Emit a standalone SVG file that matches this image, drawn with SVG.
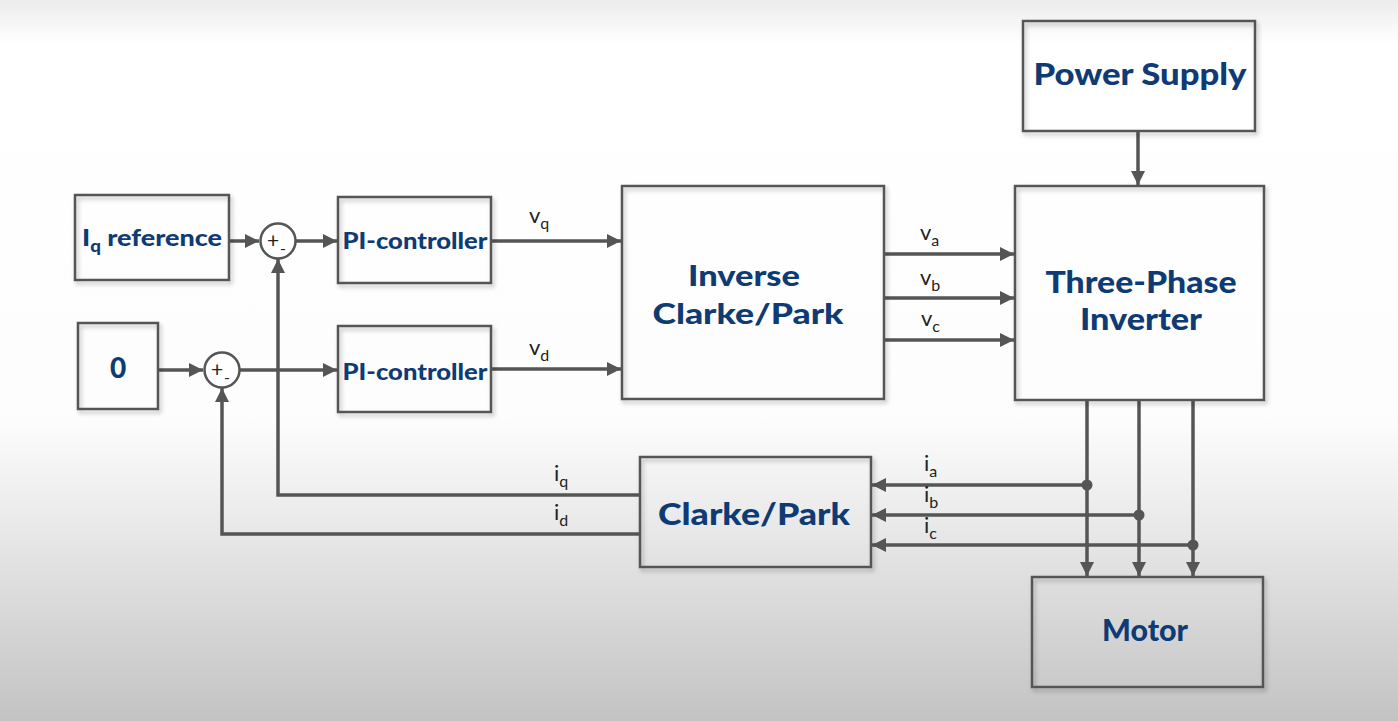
<svg xmlns="http://www.w3.org/2000/svg" width="1398" height="721" viewBox="0 0 1398 721">
<defs>
<linearGradient id="bg" x1="0" y1="0" x2="0" y2="1">
<stop offset="0" stop-color="#ececec"/>
<stop offset="0.06" stop-color="#ffffff"/>
<stop offset="0.58" stop-color="#fdfdfd"/>
<stop offset="0.75" stop-color="#e6e6e6"/>
<stop offset="1" stop-color="#c3c3c3"/>
</linearGradient>
<filter id="sh" x="-10%" y="-10%" width="130%" height="130%">
<feDropShadow dx="2" dy="3" stdDeviation="2" flood-color="#000" flood-opacity="0.25"/>
</filter>
<marker id="ar" viewBox="0 0 10 10" refX="10" refY="5" markerWidth="4" markerHeight="4" orient="auto" markerUnits="strokeWidth">
<path d="M0,0 L10,5 L0,10 z" fill="#555"/>
</marker>
</defs>
<style>
.box{fill:none;stroke:#555;stroke-width:2.5}
.sum{fill:#fff;stroke:#555;stroke-width:2.5}
.t{font-family:Lato,"Open Sans",sans-serif;font-weight:900;fill:#0e3b74;text-anchor:middle}
.l{font-family:Lato,"Open Sans",sans-serif;font-weight:400;fill:#222;font-size:22px}
.s{font-family:Lato,"Open Sans",sans-serif;font-weight:400;fill:#222;font-size:16px}
.w{fill:none;stroke:#555;stroke-width:3.5}
.dot{fill:#555}
.pm{font-family:Lato,"Open Sans",sans-serif;fill:#222;text-anchor:middle}
</style>
<rect width="1398" height="721" fill="url(#bg)"/>

<g id="connectors">
<line class="w" x1="229" y1="241" x2="259" y2="241" marker-end="url(#ar)"/>
<line class="w" x1="295" y1="241" x2="337" y2="241" marker-end="url(#ar)"/>
<line class="w" x1="158" y1="370" x2="203" y2="370" marker-end="url(#ar)"/>
<line class="w" x1="239" y1="370" x2="337" y2="370" marker-end="url(#ar)"/>
<line class="w" x1="491" y1="241" x2="621" y2="241" marker-end="url(#ar)"/>
<line class="w" x1="491" y1="369" x2="621" y2="369" marker-end="url(#ar)"/>
<line class="w" x1="884" y1="254" x2="1014" y2="254" marker-end="url(#ar)"/>
<line class="w" x1="884" y1="298" x2="1014" y2="298" marker-end="url(#ar)"/>
<line class="w" x1="884" y1="340" x2="1014" y2="340" marker-end="url(#ar)"/>
<line class="w" x1="1138" y1="131" x2="1138" y2="185" marker-end="url(#ar)"/>
<line class="w" x1="1087" y1="400" x2="1087" y2="576" marker-end="url(#ar)"/>
<line class="w" x1="1139" y1="400" x2="1139" y2="576" marker-end="url(#ar)"/>
<line class="w" x1="1193" y1="400" x2="1193" y2="576" marker-end="url(#ar)"/>
<line class="w" x1="1087" y1="485" x2="872" y2="485" marker-end="url(#ar)"/>
<line class="w" x1="1139" y1="515" x2="872" y2="515" marker-end="url(#ar)"/>
<line class="w" x1="1193" y1="545" x2="872" y2="545" marker-end="url(#ar)"/>
<circle class="dot" cx="1087" cy="485" r="5.5"/>
<circle class="dot" cx="1139" cy="515" r="5.5"/>
<circle class="dot" cx="1193" cy="545" r="5.5"/>
<polyline class="w" points="640,495 278,495 278,259" marker-end="url(#ar)"/>
<polyline class="w" points="640,534 222,534 222,388" marker-end="url(#ar)"/>
<text class="l" x="529" y="223">v<tspan class="s" dy="6">q</tspan></text>
<text class="l" x="529" y="355">v<tspan class="s" dy="6">d</tspan></text>
<text class="l" x="920" y="240">v<tspan class="s" dy="6">a</tspan></text>
<text class="l" x="920" y="285">v<tspan class="s" dy="6">b</tspan></text>
<text class="l" x="921" y="326">v<tspan class="s" dy="6">c</tspan></text>
<text class="l" x="924" y="471">i<tspan class="s" dy="6">a</tspan></text>
<text class="l" x="924" y="502">i<tspan class="s" dy="6">b</tspan></text>
<text class="l" x="924" y="533">i<tspan class="s" dy="6">c</tspan></text>
<text class="l" x="554" y="481">i<tspan class="s" dy="6">q</tspan></text>
<text class="l" x="554" y="520">i<tspan class="s" dy="6">d</tspan></text>
</g>

<g id="iqref">
<rect class="box" filter="url(#sh)" x="75" y="195" width="154" height="85"/>
<text class="t" x="152" y="246" font-size="23" textLength="140" lengthAdjust="spacingAndGlyphs">I<tspan font-size="16" dy="6">q</tspan><tspan dy="-6"> reference</tspan></text>
</g>
<g id="zero">
<rect class="box" filter="url(#sh)" x="78" y="323" width="80" height="86"/>
<text class="t" x="118" y="378" font-size="28">0</text>
</g>
<g id="sum1">
<circle class="sum" cx="278" cy="241" r="17.5"/>
<text class="pm" x="273" y="248" font-size="21">+</text>
<text class="pm" x="283" y="254" font-size="16">-</text>
</g>
<g id="sum2">
<circle class="sum" cx="222" cy="370" r="17.5"/>
<text class="pm" x="217" y="377" font-size="21">+</text>
<text class="pm" x="227" y="383" font-size="16">-</text>
</g>
<g id="pi1">
<rect class="box" filter="url(#sh)" x="338" y="197" width="153" height="86"/>
<text class="t" x="415" y="249" font-size="23" textLength="145" lengthAdjust="spacingAndGlyphs">PI-controller</text>
</g>
<g id="pi2">
<rect class="box" filter="url(#sh)" x="338" y="326" width="153" height="86"/>
<text class="t" x="415" y="380" font-size="23" textLength="145" lengthAdjust="spacingAndGlyphs">PI-controller</text>
</g>
<g id="invclarke">
<rect class="box" filter="url(#sh)" x="622" y="186" width="262" height="213"/>
<text class="t" x="744" y="286" font-size="29" textLength="112" lengthAdjust="spacingAndGlyphs">Inverse</text>
<text class="t" x="748" y="324" font-size="29" textLength="191" lengthAdjust="spacingAndGlyphs">Clarke/Park</text>
</g>
<g id="power">
<rect class="box" filter="url(#sh)" x="1023" y="21" width="232" height="110"/>
<text class="t" x="1140" y="85" font-size="30" textLength="213" lengthAdjust="spacingAndGlyphs">Power Supply</text>
</g>
<g id="inverter">
<rect class="box" filter="url(#sh)" x="1015" y="186" width="249" height="214"/>
<text class="t" x="1141" y="293" font-size="30" textLength="191" lengthAdjust="spacingAndGlyphs">Three-Phase</text>
<text class="t" x="1141" y="330" font-size="30" textLength="122" lengthAdjust="spacingAndGlyphs">Inverter</text>
</g>
<g id="clarke">
<rect class="box" filter="url(#sh)" x="640" y="457" width="231" height="110"/>
<text class="t" x="754" y="525" font-size="30" textLength="192" lengthAdjust="spacingAndGlyphs">Clarke/Park</text>
</g>
<g id="motor">
<rect class="box" filter="url(#sh)" x="1032" y="577" width="231" height="110"/>
<text class="t" x="1145" y="641" font-size="31" textLength="86" lengthAdjust="spacingAndGlyphs">Motor</text>
</g>
</svg>
